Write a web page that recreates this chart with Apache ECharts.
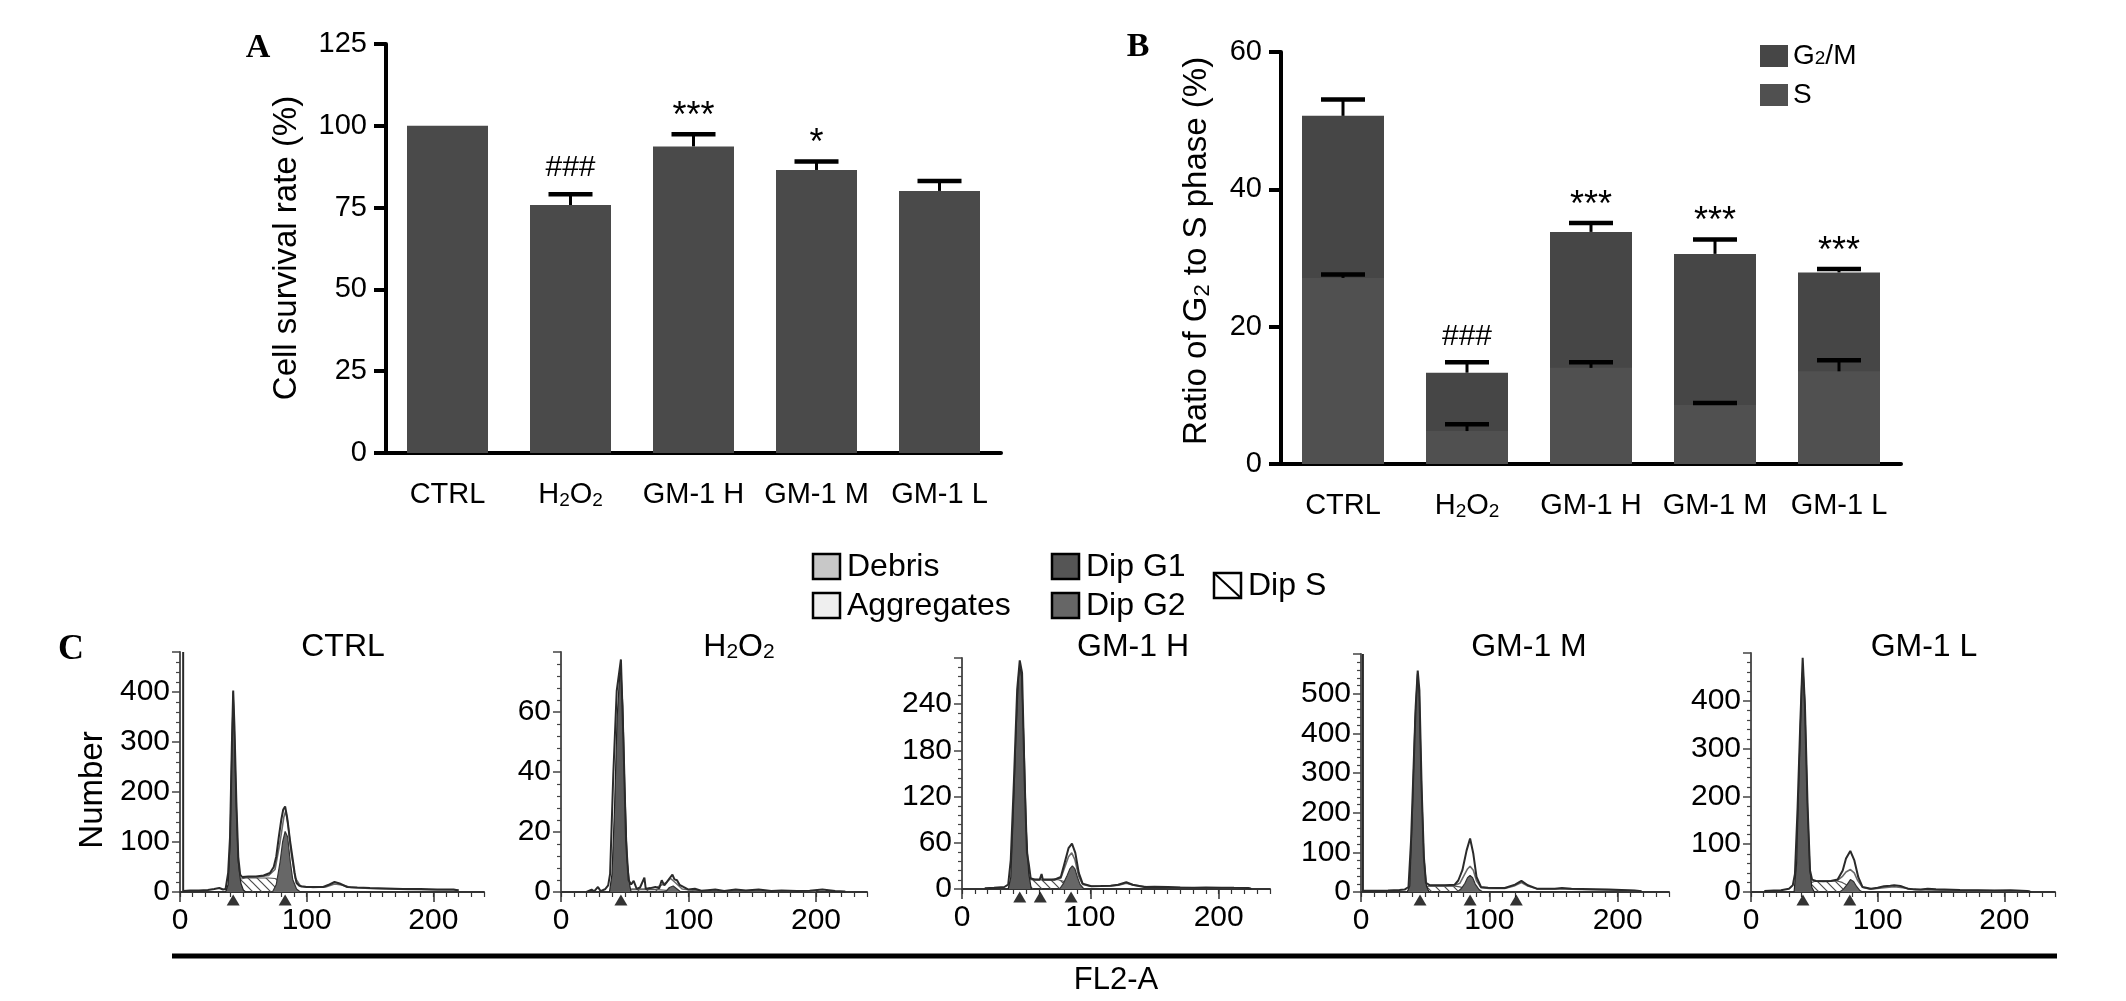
<!DOCTYPE html>
<html>
<head>
<meta charset="utf-8">
<title>GM-1 cell survival and cell cycle</title>
<script src="https://cdn.jsdelivr.net/npm/echarts/dist/echarts.min.js"></script>
<style>
html, body { margin: 0; padding: 0; background: #fff; }
#chart { width: 2126px; height: 1001px; }
</style>
</head>
<body>
<div id="chart"></div>
<script>
var FONT = '"Liberation Sans", Arial, Helvetica, sans-serif';
var SERIF = '"Liberation Serif", "Times New Roman", serif';

// ---- panel A / B data ----
var groups = ['CTRL', 'H2O2', 'GM-1 H', 'GM-1 M', 'GM-1 L'];
var survival = [100, 75.8, 93.7, 86.5, 80.1];
var survivalTop = [null, 79.1, 97.4, 89.1, 83.1];
var survivalMarks = ['', '###', '***', '*', ''];

var ratioG2M = [50.7, 13.3, 33.8, 30.6, 27.9];
var ratioG2MTop = [53.1, 14.8, 35.1, 32.7, 28.4];
var ratioS = [27.1, 4.8, 14.0, 8.6, 13.5];
var ratioSTop = [27.6, 5.8, 14.8, 8.9, 15.1];
var ratioMarks = ['', '###', '***', '***', '***'];

// ---- panel C histograms (channel, count) ----
var ctrlRaw = [[2.5,480],[2.5,2],[8,3],[15,3],[22,4],[27,6],[31,8],[34,5],[36,6],[38,38],[39.5,110],[41,300],[42,403],[43,330],[44.5,180],[46,70],[47.5,35],[49,30],[54,31],[60,31],[66,33],[71,38],[74,50],[76,71],[78,110],[80,145],[81.5,165],[83,171],[84.5,150],[85.5,131],[87,100],[89,65],[90.5,38],[92,18],[94,13],[96,11],[100,10],[106,10],[113,10],[118,15],[122,20],[126,17],[132,10],[140,9],[150,8],[163,7],[176,6],[190,6],[203,5],[216,5],[220,3]];
var ctrlG1 = [[36,0],[38,15],[39.5,100],[41,300],[42,400],[43,320],[44.5,170],[46,60],[48,18],[50,4],[52,0]];
var ctrlG2 = [[73,0],[76,15],[79,60],[81,100],[83,121],[85,110],[87,62],[89,25],[92,6],[95,0]];
var ctrlS = [[43,0],[45,14],[48,26],[52,28],[60,28],[70,28],[75,27],[79,23],[83,15],[87,7],[91,2],[94,0]];
var ctrlFit = [[49,29],[60,30],[70,33],[75,45],[79,100],[82,150],[83.5,162],[85,140],[88,75],[91,28],[95,12],[105,9],[115,10],[122,16],[128,14],[135,9],[150,7],[180,5],[220,4]];
var ctrlPeaks = [42, 83];

var h2o2Raw = [[20,0],[24,0.8],[26,0.2],[29,1.7],[31,0.3],[34.5,0.9],[37,2.2],[38.5,6],[41,39],[43.7,67],[47,77.5],[49,50],[51,17],[53,4],[55,2.5],[57,3.7],[59.4,1],[62,1.5],[65.4,4.8],[66.5,1],[70,1.3],[74,1.7],[77,1.2],[79,3.9],[81,2.2],[83,3.3],[85,4.5],[87.4,5.8],[89,4.2],[91,3.9],[93,2.4],[96,1.7],[100,0.8],[105,1.1],[110,0.4],[115,0.6],[121,0.8],[128,0.3],[137,0.8],[145,0.5],[155,0.8],[165,0.3],[173,0.5],[185,0.3],[195,0.4],[205,0.8],[215,0.3],[223,0.2]];
var h2o2G1 = [[38,0],[40,6],[42,28],[44,58],[46,72],[47,74],[48.5,62],[50,35],[52,10],[54,2],[55,0]];
var h2o2G2 = [[82,0],[85,1.5],[88,2],[91,1],[94,0]];
var h2o2S = [[50,0],[55,0.8],[75,0.8],[85,0.5],[90,0]];
var h2o2Fit = [[55,1],[65,1],[75,1.5],[82,3],[86,4.5],[90,3],[95,1],[105,0.5],[200,0.3]];
var h2o2Peaks = [47];

var gm1hRaw = [[17.7,1],[25,1.7],[33,2.6],[36,5.6],[38,38],[40.5,142],[43,259],[45,297],[46.8,281],[48.8,142],[50.6,47],[52,33],[53.5,14],[56.6,12],[60.5,12],[62,19.5],[63,12],[68,12],[72,12],[77,15.6],[80,34],[83,53],[85.7,59],[88.3,47],[91,21],[94,7],[100.8,3.5],[108,3.8],[116,4.3],[121.6,5.6],[128,8.7],[133,5.6],[142,2.6],[150,2.8],[160.5,2.6],[170,2],[181,1.7],[190,2],[202,1.7],[212,1.5],[223,1.3],[225.5,0]];
var gm1hG1 = [[36,0],[38,15],[40,100],[42,200],[44,275],[45,290],[46.5,275],[48.5,180],[50,80],[52,20],[54,0]];
var gm1hG2 = [[76,0],[79,7],[82,18],[84,26],[86,30],[88,26],[90,15],[92,6],[95,0]];
var gm1hS = [[44,0],[46,6],[49,11],[53,12],[65,12],[75,12],[79,10],[83,6],[87,3],[91,0]];
var gm1hFit = [[53,13],[60,12.5],[70,12.5],[77,14],[80,28],[83,42],[85.5,47],[88,38],[91,16],[94,6],[100,3.5],[115,4],[122,5],[128,7.5],[134,5],[145,2.5],[180,1.7],[225,1]];
var gm1hPeaks = [45, 61, 85];

var gm1mRaw = [[1.5,600],[1.5,3],[8,3],[21,4],[30,5],[34,6],[37,12.6],[39,130],[40.8,299],[42.6,467],[44.2,558],[45.5,509],[47.3,257],[49,88],[50.6,23],[53.8,17],[60,17],[65.5,17],[73,18.5],[75.8,29],[79,55],[82.3,105],[85,135],[87.5,97],[90,38],[93.5,12.6],[99,11],[106,10],[112,10],[120,18.5],[125,28],[130,17],[137,8.4],[145,8],[151,8],[156.6,10],[164,8],[172,7.6],[183,7],[193,6],[203,5],[213,4],[218.7,2]];
var gm1mG1 = [[36,0],[38,15],[40,200],[42,430],[44,550],[45.5,500],[47,290],[49,90],[51,15],[53,0]];
var gm1mG2 = [[75,0],[78,8],[81,22],[83,36],[85,42],[87,36],[89,20],[92,6],[95,0]];
var gm1mS = [[44,0],[46,7],[49,13],[53,15],[65,15],[73,15],[77,13],[81,9],[85,5],[89,2],[92,0]];
var gm1mFit = [[52,16],[60,16],[72,16],[77,22],[80,40],[83,58],[85,65],[87.5,55],[90,28],[93.5,11],[100,9],[112,9],[120,16],[125,24],[130,15],[137,8],[155,8],[190,5],[218,3]];
var gm1mPeaks = [46, 85, 121];

var gm1lRaw = [[10.5,2],[18,3],[23.7,3.5],[30,7],[33,14],[34.7,38],[36.8,178],[38.9,353],[40.8,490],[42.6,388],[44.7,178],[46.6,45],[48.2,26],[51.3,23],[57,22.5],[63,23],[68.4,26],[72.4,45],[75,70],[78.4,86],[81.6,66],[84.7,31],[88,10.5],[94.7,7],[100,9],[105,12],[110,13],[113,14],[118,12.6],[123.7,7],[129,5.5],[134,5],[139.5,7],[146,5.5],[152.6,5],[165,4],[179,3.5],[192,3],[205,3.5],[218,2],[221,0]];
var gm1lG1 = [[34,0],[36,60],[38,260],[40,440],[41,470],[42.5,400],[44.5,190],[46.5,50],[48,10],[50,0]];
var gm1lG2 = [[70,0],[73,6],[76,16],[78.5,26],[81,22],[83.5,11],[86,3],[88,0]];
var gm1lS = [[41,0],[44,10],[47,19],[51,23],[60,23],[68,23],[72,20],[76,14],[80,8],[84,3],[87,0]];
var gm1lFit = [[50,23],[60,23],[68,24],[72,32],[75,42],[78.5,47],[81.5,40],[84,25],[88,10],[94,6],[105,9],[113,11],[120,9],[130,5],[160,3.5],[220,2]];
var gm1lPeaks = [41, 78];

var histYMax = [480, 80, 300, 600, 500];
var histYStep = [100, 20, 60, 100, 100];

var hists = [
  { title: 'CTRL', raw: ctrlRaw, g1: ctrlG1, g2: ctrlG2, s: ctrlS, fit: ctrlFit, peaks: ctrlPeaks },
  { title: 'H2O2', raw: h2o2Raw, g1: h2o2G1, g2: h2o2G2, s: h2o2S, fit: h2o2Fit, peaks: h2o2Peaks },
  { title: 'GM-1 H', raw: gm1hRaw, g1: gm1hG1, g2: gm1hG2, s: gm1hS, fit: gm1hFit, peaks: gm1hPeaks },
  { title: 'GM-1 M', raw: gm1mRaw, g1: gm1mG1, g2: gm1mG2, s: gm1mS, fit: gm1mFit, peaks: gm1mPeaks },
  { title: 'GM-1 L', raw: gm1lRaw, g1: gm1lG1, g2: gm1lG2, s: gm1lS, fit: gm1lFit, peaks: gm1lPeaks }
];

// layout of the small histograms (pixels)
var histBoxes = [
  { left: 180, top: 652, width: 304, height: 240, titleX: 343 },
  { left: 561, top: 652, width: 306, height: 240, titleX: 739 },
  { left: 962, top: 658, width: 308, height: 231, titleX: 1133 },
  { left: 1361, top: 654, width: 308, height: 238, titleX: 1529 },
  { left: 1751, top: 653, width: 304, height: 239, titleX: 1924 }
];

var subRich = { s: { fontSize: 19, fontFamily: FONT, verticalAlign: 'bottom', lineHeight: 8, color: '#000' } };
function subFmt(t) {
  return t.replace('H2O2', 'H{s|2}O{s|2}').replace('G2/M', 'G{s|2}/M');
}

// hatch pattern for Dip S
var hatch = document.createElement('canvas');
hatch.width = 9; hatch.height = 9;
var hc = hatch.getContext('2d');
hc.strokeStyle = '#4a4a4a'; hc.lineWidth = 1.2;
hc.beginPath();
hc.moveTo(0, 0); hc.lineTo(9, 9);
hc.moveTo(-3, 6); hc.lineTo(3, 12);
hc.moveTo(6, -3); hc.lineTo(12, 3);
hc.stroke();

function errorBar(marks) {
  return function (params, api) {
    var idx = api.value(0);
    var base = api.coord([idx, api.value(1)]);
    var topVal = api.value(2);
    var children = [];
    var capY = base[1];
    if (!isNaN(topVal) && topVal !== null) {
      var top = api.coord([idx, topVal]);
      capY = top[1];
      children.push({ type: 'line', shape: { x1: base[0], y1: base[1], x2: base[0], y2: top[1] },
        style: { stroke: '#000', lineWidth: 3 } });
      children.push({ type: 'line', shape: { x1: base[0] - 22, y1: top[1], x2: base[0] + 22, y2: top[1] },
        style: { stroke: '#000', lineWidth: 4.5 } });
    }
    var m = marks ? marks[params.dataIndex] : '';
    if (m) {
      var star = m.charAt(0) === '*';
      children.push({ type: 'text', x: base[0], y: capY - (star ? 17 : 26),
        style: { text: m, fill: '#000', fontSize: star ? 36 : 30, fontFamily: FONT,
          align: 'center', verticalAlign: 'middle' } });
    }
    return { type: 'group', children: children };
  };
}

var grids = [
  { left: 386, top: 44, width: 615, height: 409 },
  { left: 1281, top: 52, width: 620, height: 412 }
];
var xAxes = [];
var yAxes = [];
var series = [];

function catAxis(gi) {
  return {
    type: 'category', gridIndex: gi, data: groups,
    axisLine: { lineStyle: { color: '#000', width: 4 } },
    axisTick: { alignWithLabel: true, length: 12, lineStyle: { color: '#000', width: 4 } },
    axisLabel: { interval: 0, fontSize: 29, fontFamily: FONT, color: '#000', margin: 27, lineHeight: 30,
      formatter: subFmt, rich: subRich }
  };
}
function valAxis(gi, max, step) {
  return {
    type: 'value', gridIndex: gi, min: 0, max: max, interval: step,
    axisLine: { show: true, lineStyle: { color: '#000', width: 4 } },
    axisTick: { show: true, length: 12, lineStyle: { color: '#000', width: 4 } },
    axisLabel: { fontSize: 29, fontFamily: FONT, color: '#000', margin: 19 },
    splitLine: { show: false }
  };
}
xAxes.push(catAxis(0), catAxis(1));
yAxes.push(valAxis(0, 125, 25), valAxis(1, 60, 20));

// A
series.push({ type: 'bar', xAxisIndex: 0, yAxisIndex: 0, data: survival, barWidth: 81,
  itemStyle: { color: '#4a4a4a' }, z: 2 });
series.push({ type: 'custom', xAxisIndex: 0, yAxisIndex: 0, z: 5,
  renderItem: errorBar(survivalMarks),
  data: groups.map(function (g, i) { return [i, survival[i], survivalTop[i]]; }) });

// B
series.push({ name: 'G2/M', type: 'bar', xAxisIndex: 1, yAxisIndex: 1, data: ratioG2M, barWidth: 82,
  itemStyle: { color: '#464646' }, z: 2 });
series.push({ name: 'S', type: 'bar', xAxisIndex: 1, yAxisIndex: 1, data: ratioS, barWidth: 82, barGap: '-100%',
  itemStyle: { color: '#505050' }, z: 3 });
series.push({ type: 'custom', xAxisIndex: 1, yAxisIndex: 1, z: 5,
  renderItem: errorBar(ratioMarks),
  data: groups.map(function (g, i) { return [i, ratioG2M[i], ratioG2MTop[i]]; }) });
series.push({ type: 'custom', xAxisIndex: 1, yAxisIndex: 1, z: 5,
  renderItem: errorBar(null),
  data: groups.map(function (g, i) { return [i, ratioS[i], ratioSTop[i]]; }) });

// C
hists.forEach(function (h, k) {
  var box = histBoxes[k];
  var gi = 2 + k;
  grids.push({ left: box.left, top: box.top, width: box.width, height: box.height });
  xAxes.push({
    type: 'value', gridIndex: gi, position: 'bottom', min: 0, max: 240, interval: 100,
    axisLine: { show: true, onZero: false, lineStyle: { color: '#333', width: 2 } },
    axisTick: { length: 10, lineStyle: { color: '#333', width: 1.5 } },
    axisLabel: { fontSize: 30, fontFamily: FONT, color: '#000', margin: 14, showMaxLabel: false },
    splitLine: { show: false }
  });
  xAxes.push({
    type: 'value', gridIndex: gi, position: 'bottom', min: 0, max: 240, interval: 10,
    axisLine: { show: false },
    axisTick: { length: 5, lineStyle: { color: '#333', width: 1.2 } },
    axisLabel: { show: false }, splitLine: { show: false }
  });
  yAxes.push({
    type: 'value', gridIndex: gi, min: 0, max: histYMax[k], interval: histYStep[k],
    axisLine: { show: true, onZero: false, lineStyle: { color: '#555', width: 2 } },
    axisTick: { length: 8, lineStyle: { color: '#444', width: 1.5 } },
    minorTick: { show: true, splitNumber: 5, length: 4, lineStyle: { color: '#444', width: 1.2 } },
    axisLabel: { fontSize: 30, fontFamily: FONT, color: '#000', margin: 10, showMaxLabel: false },
    splitLine: { show: false }, minorSplitLine: { show: false }
  });
  var xi = 2 + 2 * k;
  var base = { type: 'line', xAxisIndex: xi, yAxisIndex: gi, symbol: 'none', silent: true };
  series.push(Object.assign({}, base, { data: h.s, z: 2,
    lineStyle: { color: '#555', width: 1.2 },
    areaStyle: { color: { image: hatch, repeat: 'repeat' }, opacity: 1 } }));
  series.push(Object.assign({}, base, { data: h.fit, z: 3,
    lineStyle: { color: '#6a6a6a', width: 1.6 } }));
  series.push(Object.assign({}, base, { data: h.g1, z: 4,
    lineStyle: { color: '#222', width: 1.2 }, areaStyle: { color: '#5a5a5a', opacity: 1 } }));
  series.push(Object.assign({}, base, { data: h.g2, z: 4,
    lineStyle: { color: '#333', width: 1.2 }, areaStyle: { color: '#676767', opacity: 1 } }));
  series.push(Object.assign({}, base, { data: h.raw, z: 5,
    lineStyle: { color: '#2a2a2a', width: 2 } }));
  series.push({ type: 'scatter', xAxisIndex: xi, yAxisIndex: gi, silent: true, clip: false, z: 6,
    data: h.peaks.map(function (p) { return [p, 0]; }),
    symbol: 'triangle', symbolSize: [13, 11], symbolOffset: [0, 8],
    itemStyle: { color: '#000' } });
});

// static text / legend for panel C
var graphics = [
  { type: 'text', x: 258, y: 48, style: { text: 'A', fontSize: 34, fontWeight: 'bold', fontFamily: SERIF, fill: '#000', align: 'center', verticalAlign: 'middle' } },
  { type: 'text', x: 1138, y: 47, style: { text: 'B', fontSize: 34, fontWeight: 'bold', fontFamily: SERIF, fill: '#000', align: 'center', verticalAlign: 'middle' } },
  { type: 'text', x: 71, y: 650, style: { text: 'C', fontSize: 36, fontWeight: 'bold', fontFamily: SERIF, fill: '#000', align: 'center', verticalAlign: 'middle' } },
  { type: 'text', x: 287, y: 248, rotation: Math.PI / 2, style: { text: 'Cell survival rate (%)', fontSize: 33, fontFamily: FONT, fill: '#000', align: 'center', verticalAlign: 'middle' } },
  { type: 'text', x: 1197, y: 251, rotation: Math.PI / 2, style: { text: 'Ratio of G{s|2} to S phase (%)', fontSize: 33, fontFamily: FONT, fill: '#000', align: 'center', verticalAlign: 'middle', lineHeight: 34,
    rich: { s: { fontSize: 22, fontFamily: FONT, verticalAlign: 'bottom', lineHeight: 10, fill: '#000' } } } },
  { type: 'text', x: 93, y: 790, rotation: Math.PI / 2, style: { text: 'Number', fontSize: 33, fontFamily: FONT, fill: '#000', align: 'center', verticalAlign: 'middle' } },
  { type: 'line', shape: { x1: 172, y1: 956, x2: 2057, y2: 956 }, style: { stroke: '#000', lineWidth: 5 } },
  { type: 'text', x: 1116, y: 980, style: { text: 'FL2-A', fontSize: 31, fontFamily: FONT, fill: '#000', align: 'center', verticalAlign: 'middle' } }
];
hists.forEach(function (h, k) {
  graphics.push({ type: 'text', x: histBoxes[k].titleX, y: 647,
    style: { text: subFmt(h.title), fontSize: 32, fontFamily: FONT, fill: '#000', align: 'center', verticalAlign: 'middle', lineHeight: 32,
      rich: { s: { fontSize: 21, fontFamily: FONT, verticalAlign: 'bottom', lineHeight: 9, fill: '#000' } } } });
});
var cLegend = [
  { name: 'Debris', x: 813, y: 554, fill: '#c8c8c8' },
  { name: 'Aggregates', x: 813, y: 593, fill: '#efefef' },
  { name: 'Dip G1', x: 1052, y: 554, fill: '#555555' },
  { name: 'Dip G2', x: 1052, y: 593, fill: '#666666' },
  { name: 'Dip S', x: 1214, y: 573, fill: '#ffffff' }
];
cLegend.forEach(function (it) {
  graphics.push({ type: 'rect', shape: { x: it.x, y: it.y, width: 27, height: 25 },
    style: { fill: it.fill, stroke: '#000', lineWidth: 2.5 } });
  if (it.name === 'Dip S') {
    graphics.push({ type: 'line', shape: { x1: it.x, y1: it.y, x2: it.x + 27, y2: it.y + 25 },
      style: { stroke: '#000', lineWidth: 2 } });
  }
  graphics.push({ type: 'text', x: it.x + 34, y: it.y + 13,
    style: { text: it.name, fontSize: 32, fontFamily: FONT, fill: '#000', align: 'left', verticalAlign: 'middle' } });
});

var chart = echarts.init(document.getElementById('chart'));
chart.setOption({
  backgroundColor: '#fff',
  animation: false,
  grid: grids,
  xAxis: xAxes,
  yAxis: yAxes,
  legend: {
    show: true, orient: 'vertical', left: 1755, top: 37,
    itemWidth: 28, itemHeight: 22, itemGap: 11, icon: 'rect',
    data: ['G2/M', 'S'], formatter: subFmt,
    textStyle: { fontSize: 28, fontFamily: FONT, color: '#000', lineHeight: 24, rich: subRich }
  },
  graphic: graphics,
  series: series
});
</script>
</body>
</html>
